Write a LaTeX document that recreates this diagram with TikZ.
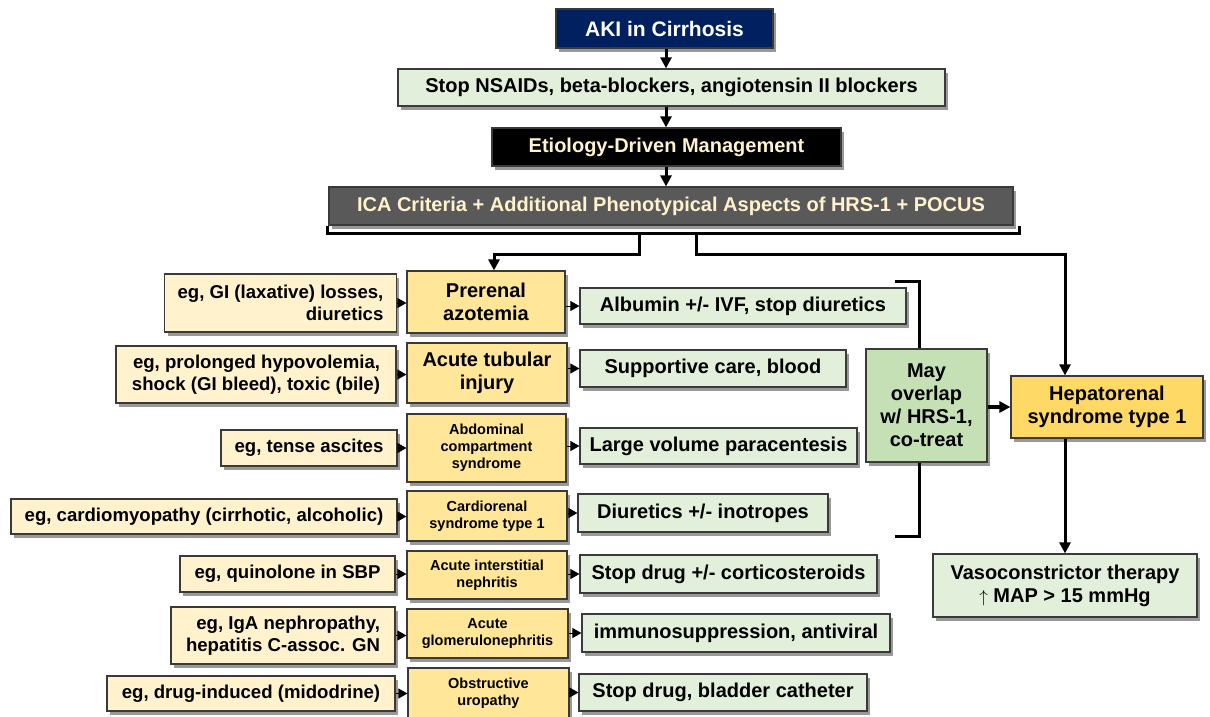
\documentclass[tikz,border=0pt]{standalone}
\usepackage{fontspec}
\setmainfont{Liberation Sans}
\usetikzlibrary{shadows,arrows.meta}
\definecolor{navy}{HTML}{002060}
\definecolor{lgreen}{HTML}{E2EFDA}
\definecolor{dgray}{HTML}{595959}
\definecolor{cream}{HTML}{FFF2CC}
\definecolor{gold}{HTML}{FFE699}
\definecolor{mgreen}{HTML}{C5E0B4}
\definecolor{hgold}{HTML}{FFD966}
\definecolor{edge}{HTML}{3A3A3A}
\newcommand{\bx}[6]{\node[#5, minimum width={(#3-#1)*1pt}, minimum height={(#4-#2)*1pt}] (#6) at ({(#1+#3)/2},{(#2+#4)/2})}
\tikzset{
  base/.style={draw=edge, line width=1.2pt, inner sep=0pt, anchor=center,
    font=\bfseries\fontsize{20}{23}\selectfont,
    drop shadow={shadow xshift=3pt, shadow yshift=-3.5pt, fill=black, opacity=0.4}},
  navybox/.style={base, fill=navy, text=white, font=\bfseries\fontsize{21}{24}\selectfont},
  greenbox/.style={base, fill=lgreen, align=center},
  blackbox/.style={base, fill=black, text=cream},
  graybox/.style={base, fill=dgray, text=cream},
  causebox/.style={base, fill=cream, align=right, inner xsep=13pt, font=\bfseries\fontsize{18.6}{21.7}\selectfont},
  condbox/.style={base, fill=gold, align=center},
  condsmall/.style={condbox, font=\bfseries\fontsize{14.5}{16.8}\selectfont},
  overlapbox/.style={base, fill=mgreen, align=center},
  hrsbox/.style={base, fill=hgold, align=center},
  conn/.style={line width=3pt, -{Triangle[length=11pt,width=11pt]}},
  tip/.style={line width=1pt, -{Triangle[length=9pt,width=10pt]}},
  brk/.style={line width=3pt},
}
\begin{document}
\begin{tikzpicture}[x=1pt,y=-1pt]
\useasboundingbox (0,0) rectangle (1210,716);
% top chain
\bx{556}{9}{773}{48}{navybox}{aki} {AKI in Cirrhosis};
\bx{398}{69}{945}{106}{greenbox}{stop} {Stop NSAIDs, beta-blockers, angiotensin II blockers};
\bx{492}{128}{841}{166}{blackbox}{etio} {Etiology-Driven Management};
\bx{329}{187}{1013}{225}{graybox}{ica} {ICA Criteria + Additional Phenotypical Aspects of HRS-1 + POCUS};
\draw[conn] (aki.south -| 666,0) -- (stop.north -| 666,0);
\draw[conn] (stop.south -| 666,0) -- (etio.north -| 666,0);
\draw[conn] (etio.south -| 666,0) -- (ica.north -| 666,0);
% rows
\bx{165}{274}{396}{332}{causebox}{c1} {eg, GI (laxative) losses,\\diuretics};
\bx{407}{271}{565}{333}{condbox}{m1} {Prerenal\\azotemia};
\bx{580}{288}{906}{324}{greenbox}{t1} {Albumin +/- IVF, stop diuretics};
\bx{116}{346}{396}{403}{causebox}{c2} {eg, prolonged hypovolemia,\\shock (GI bleed), toxic (bile)};
\bx{407}{343}{567}{403}{condbox}{m2} {Acute tubular\\injury};
\bx{580}{350}{846}{387}{greenbox}{t2} {Supportive care, blood};
\bx{221}{430}{397}{466}{causebox}{c3} {eg, tense ascites};
\bx{407}{414}{566}{482}{condsmall}{m3} {Abdominal\\compartment\\syndrome};
\bx{580}{428}{857}{464}{greenbox}{t3} {Large volume paracentesis};
\bx{11}{499}{397}{534}{causebox}{c4} {eg, cardiomyopathy (cirrhotic, alcoholic)};
\bx{407}{491}{567}{541}{condsmall}{m4} {Cardiorenal\\syndrome type 1};
\bx{578}{494}{828}{532}{greenbox}{t4} {Diuretics +/- inotropes};
\bx{180}{556}{395}{592}{causebox}{c5} {eg, quinolone in SBP};
\bx{407}{551}{567}{599}{condsmall}{m5} {Acute interstitial\\nephritis};
\bx{580}{555}{877}{593}{greenbox}{t5} {Stop drug +/- corticosteroids};
\bx{171}{607}{395}{664}{causebox}{c6} {eg, IgA nephropathy,\\hepatitis C-assoc. GN};
\bx{407}{609}{568}{658}{condsmall}{m6} {Acute\\glomerulonephritis};
\bx{582}{614}{890}{652}{greenbox}{t6} {immunosuppression, antiviral};
\bx{107}{676}{395}{711}{causebox}{c7} {eg, drug-induced (midodrine)};
\bx{408}{668}{569}{718}{condsmall}{m7} {Obstructive\\uropathy};
\bx{579}{674}{867}{711}{greenbox}{t7} {Stop drug, bladder catheter};
\foreach \i in {1,...,7}{
  \draw[tip] (c\i.east) -- (m\i.west |- c\i.east);
  \draw[tip] (m\i.east |- t\i.west) -- (t\i.west);
}
% bracket under ICA
\coordinate (bl) at (327,226);
\coordinate (br) at (1019,226);
\draw[brk] (bl) -- ++(0,7) -- (br |- 0,233) -- (br);
\coordinate (lb) at (639,233);
\coordinate (rb) at (696,233);
% right bracket
\coordinate (rt) at (895,281);
\coordinate (rbm) at (895,536);
% right side
\bx{866}{349}{987}{462}{overlapbox}{may} {May\\overlap\\w/ HRS-1,\\co-treat};
\bx{1011}{376}{1203}{438}{hrsbox}{hrs} {Hepatorenal\\syndrome type 1};
\bx{933}{554}{1197}{617}{greenbox}{vaso} {Vasoconstrictor therapy\\{\fontsize{17}{20}\selectfont$\uparrow$} MAP > 15 mmHg};
\draw[brk] (rt) -- (919,281) -- (may.north -| 919,0);
\draw[brk] (may.south -| 919,0) -- (919,536) -- (rbm);
\draw[conn] (lb) -- (639,254) -- (494,254) -- (m1.north -| 494,0);
\draw[conn] (rb) -- (696,254) -- (1065,254) -- (hrs.north -| 1065,0);
\draw[conn, line width=4.5pt] (may.east |- hrs.west) -- (hrs.west);
\draw[conn] (hrs.south -| 1065,0) -- (vaso.north -| 1065,0);
\end{tikzpicture}
\end{document}
